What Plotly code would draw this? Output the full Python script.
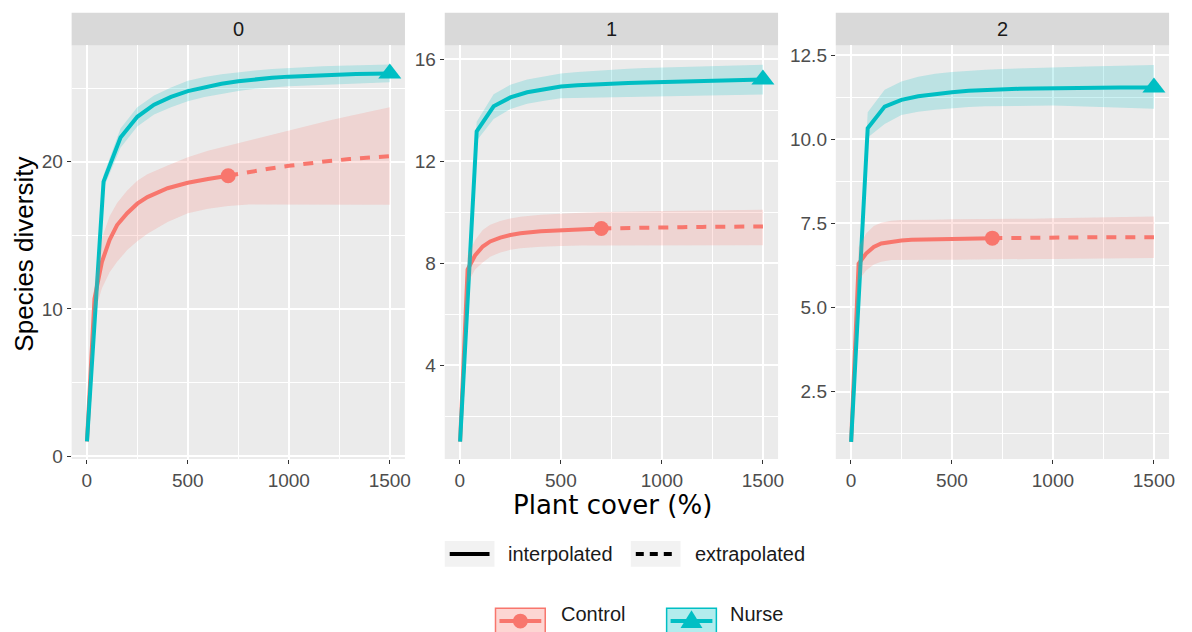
import plotly.graph_objects as go

W, H = 1192, 632

# ---------------- data ----------------
PANELS = ["0", "1", "2"]
CTRL_REF = 700  # reference sample size (end of interpolation)

CTRL_X = [1, 38, 75, 113, 150, 200, 250, 300, 400, 500, 600, 700,
          800, 900, 1000, 1100, 1200, 1300, 1400, 1500]
NURSE_X = [1, 83, 167, 250, 333, 417, 500, 583, 667, 750, 833, 917,
           1000, 1083, 1167, 1250, 1333, 1417, 1500]

ctrl_y_0 = [1, 10.7, 13.2, 14.7, 15.7, 16.5, 17.15, 17.6, 18.2, 18.57, 18.83, 19.05,
            19.3, 19.52, 19.72, 19.9, 20.05, 20.18, 20.29, 20.38]
ctrl_lo_0 = [1, 9.7, 11.4, 12.5, 13.2, 14.0, 14.6, 15.1, 15.9, 16.5, 16.8, 17.0,
             17.1, 17.12, 17.12, 17.12, 17.1, 17.1, 17.09, 17.08]
ctrl_hi_0 = [1, 11.6, 14.8, 16.3, 17.2, 18.05, 18.7, 19.15, 19.75, 20.3, 20.75, 21.1,
             21.45, 21.8, 22.15, 22.5, 22.8, 23.1, 23.4, 23.7]
nurse_y_0 = [1, 18.65, 21.65, 23.05, 23.87, 24.4, 24.8, 25.08, 25.3, 25.47, 25.6, 25.7,
             25.78, 25.84, 25.89, 25.93, 25.96, 25.98, 26.0]
nurse_lo_0 = [1, 18.2, 20.95, 22.4, 23.2, 23.7, 24.1, 24.4, 24.6, 24.8, 24.95, 25.05,
              25.12, 25.18, 25.24, 25.28, 25.32, 25.36, 25.4]
nurse_hi_0 = [1, 19.1, 22.25, 23.7, 24.5, 25.05, 25.5, 25.75, 25.95, 26.1, 26.2, 26.3,
              26.37, 26.43, 26.48, 26.52, 26.55, 26.58, 26.6]

ctrl_y_1 = [1, 7.75, 8.3, 8.65, 8.85, 9.0, 9.1, 9.17, 9.25, 9.29, 9.33, 9.36,
            9.38, 9.39, 9.4, 9.41, 9.42, 9.43, 9.44, 9.44]
ctrl_lo_1 = [1, 7.2, 7.75, 8.02, 8.25, 8.42, 8.52, 8.58, 8.64, 8.67, 8.69, 8.7,
             8.7, 8.7, 8.7, 8.7, 8.7, 8.7, 8.7, 8.7]
ctrl_hi_1 = [1, 8.3, 8.9, 9.3, 9.5, 9.65, 9.75, 9.82, 9.9, 9.95, 9.98, 10.0,
             10.02, 10.03, 10.04, 10.05, 10.06, 10.07, 10.08, 10.09]
nurse_y_1 = [1, 13.17, 14.15, 14.5, 14.7, 14.82, 14.93, 14.98, 15.02, 15.04, 15.07, 15.09,
             15.11, 15.13, 15.15, 15.16, 15.17, 15.19, 15.2]
nurse_lo_1 = [1, 12.8, 13.65, 14.05, 14.25, 14.37, 14.47, 14.5, 14.52, 14.53, 14.54, 14.55,
              14.56, 14.57, 14.58, 14.59, 14.6, 14.6, 14.61]
nurse_hi_1 = [1, 13.55, 14.62, 15.0, 15.2, 15.33, 15.44, 15.5, 15.55, 15.59, 15.62, 15.65,
              15.67, 15.7, 15.72, 15.74, 15.75, 15.77, 15.78]

ctrl_y_2 = [1, 6.3, 6.6, 6.8, 6.9, 6.96, 6.99, 7.01, 7.03, 7.04, 7.05, 7.06,
            7.07, 7.07, 7.08, 7.08, 7.08, 7.09, 7.09, 7.09]
ctrl_lo_2 = [1, 5.8, 6.1, 6.28, 6.36, 6.41, 6.42, 6.42, 6.42, 6.42, 6.42, 6.42,
             6.43, 6.44, 6.44, 6.45, 6.45, 6.46, 6.46, 6.47]
ctrl_hi_2 = [1, 6.8, 7.2, 7.42, 7.52, 7.58, 7.6, 7.61, 7.61, 7.62, 7.62, 7.62,
             7.63, 7.64, 7.65, 7.66, 7.67, 7.68, 7.69, 7.7]
nurse_y_2 = [1, 10.33, 10.97, 11.17, 11.28, 11.35, 11.4, 11.44, 11.47, 11.49, 11.5, 11.51,
             11.52, 11.53, 11.53, 11.54, 11.54, 11.54, 11.54]
nurse_lo_2 = [1, 10.05, 10.45, 10.72, 10.82, 10.88, 10.93, 10.96, 10.98, 10.99, 11.0, 11.0,
              11.0, 10.99, 10.98, 10.97, 10.95, 10.93, 10.91]
nurse_hi_2 = [1, 10.8, 11.47, 11.72, 11.86, 11.95, 12.0, 12.04, 12.07, 12.09, 12.11, 12.12,
              12.13, 12.15, 12.16, 12.17, 12.18, 12.2, 12.21]

CTRL = [(ctrl_y_0, ctrl_lo_0, ctrl_hi_0), (ctrl_y_1, ctrl_lo_1, ctrl_hi_1), (ctrl_y_2, ctrl_lo_2, ctrl_hi_2)]
NURSE = [(nurse_y_0, nurse_lo_0, nurse_hi_0), (nurse_y_1, nurse_lo_1, nurse_hi_1), (nurse_y_2, nurse_lo_2, nurse_hi_2)]

X_TICKS = [0, 500, 1000, 1500]
Y_RANGES = [[-0.2, 27.9], [0.31, 16.54], [0.49, 12.79]]
Y_DTICK = [10, 4, 2.5]
Y_FORMAT = ["d", "d", ".1f"]

RED = "#F8766D"
CYAN = "#00BFC4"
RED_FILL = "rgba(248,118,109,0.2)"
CYAN_FILL = "rgba(0,191,196,0.2)"

# ---------------- layout geometry (px) ----------------
PANEL_X = [(72, 407), (447, 782), (840, 1175)]
PANEL_TOP, PANEL_BOT = 46, 465
STRIP_TOP = 13


def px(x):
    return x / W


def py(y):
    return 1 - y / H


fig = go.Figure()

for i in range(3):
    sfx = "" if i == 0 else str(i + 1)
    xa, ya = "x" + sfx, "y" + sfx
    ys, lo, hi = CTRL[i]
    n_int = len([x for x in CTRL_X if x <= CTRL_REF])
    n_ext_start = CTRL_X.index(CTRL_REF)
    fig.add_trace(go.Scatter(x=CTRL_X[:n_int], y=ys[:n_int], mode="lines", xaxis=xa, yaxis=ya,
                             line=dict(color=RED, width=4), showlegend=False, hoverinfo="skip"))
    fig.add_trace(go.Scatter(x=CTRL_X[n_ext_start:], y=ys[n_ext_start:], mode="lines", xaxis=xa, yaxis=ya,
                             line=dict(color=RED, width=4, dash="10px,9px"),
                             showlegend=False, hoverinfo="skip"))
    fig.add_trace(go.Scatter(x=[CTRL_REF], y=[ys[n_ext_start]], mode="markers",
                             xaxis=xa, yaxis=ya, marker=dict(color=RED, size=15, symbol="circle"),
                             showlegend=False, hoverinfo="skip"))
    ny, nlo, nhi = NURSE[i]
    fig.add_trace(go.Scatter(x=NURSE_X, y=ny, mode="lines", xaxis=xa, yaxis=ya,
                             line=dict(color=CYAN, width=4), showlegend=False, hoverinfo="skip"))
    fig.add_trace(go.Scatter(x=[NURSE_X[-1]], y=[ny[-1]], mode="markers",
                             xaxis=xa, yaxis=ya, marker=dict(color=CYAN, size=20, symbol="triangle-up"),
                             showlegend=False, hoverinfo="skip"))
    # ribbons on top (as in ggiNEXT)
    for (xs, (yy, l, h), fillc) in [(CTRL_X, CTRL[i], RED_FILL), (NURSE_X, NURSE[i], CYAN_FILL)]:
        fig.add_trace(go.Scatter(x=list(xs) + list(xs)[::-1], y=list(h) + list(l)[::-1],
                                 mode="lines", fill="toself", fillcolor=fillc, line=dict(width=0),
                                 xaxis=xa, yaxis=ya, showlegend=False, hoverinfo="skip"))

    x0, x1 = PANEL_X[i]
    fig.layout["xaxis" + sfx] = dict(
        domain=[px(x0), px(x1)], anchor=ya, range=[-75, 1575],
        tickvals=X_TICKS, ticks="outside", ticklen=4, tickcolor="#333333", tickwidth=1,
        tickfont=dict(family="Liberation Sans, Arial", size=19, color="#4D4D4D"),
        showgrid=True, gridcolor="white", gridwidth=1.6, zeroline=False, showline=False,
        minor=dict(tickvals=[250, 750, 1250], showgrid=True, gridcolor="white", gridwidth=0.8, ticks=""),
        fixedrange=True,
    )
    r = Y_RANGES[i]
    d = Y_DTICK[i]
    fig.layout["yaxis" + sfx] = dict(
        domain=[py(PANEL_BOT), py(PANEL_TOP)], anchor=xa, range=r,
        tick0=0, dtick=d, tickformat=Y_FORMAT[i], ticks="outside", ticklen=4, tickcolor="#333333", tickwidth=1,
        tickfont=dict(family="Liberation Sans, Arial", size=19, color="#4D4D4D"),
        showgrid=True, gridcolor="white", gridwidth=1.6, zeroline=False, showline=False,
        minor=dict(tick0=d / 2, dtick=d, showgrid=True, gridcolor="white", gridwidth=0.8, ticks=""),
        fixedrange=True,
    )

shapes = []
annotations = []
for i in range(3):
    x0, x1 = PANEL_X[i]
    shapes.append(dict(type="rect", xref="paper", yref="paper", x0=px(x0), x1=px(x1),
                       y0=py(PANEL_BOT), y1=py(PANEL_TOP), fillcolor="#EBEBEB",
                       line=dict(width=0), layer="below"))
    shapes.append(dict(type="rect", xref="paper", yref="paper", x0=px(x0), x1=px(x1),
                       y0=py(PANEL_TOP), y1=py(STRIP_TOP), fillcolor="#D9D9D9",
                       line=dict(width=0), layer="below"))
    annotations.append(dict(text=PANELS[i], xref="paper", yref="paper", x=px((x0 + x1) / 2),
                            y=py((STRIP_TOP + PANEL_TOP) / 2), showarrow=False, xanchor="center",
                            yanchor="middle", font=dict(family="Liberation Sans, Arial", size=20, color="#1A1A1A")))

# axis titles
annotations.append(dict(text="Plant cover (%)", xref="paper", yref="paper", x=px(616), y=py(511),
                        showarrow=False, xanchor="center", yanchor="middle",
                        font=dict(family="DejaVu Sans", size=26, color="black")))
annotations.append(dict(text="Species diversity", xref="paper", yref="paper", x=px(24), y=py(257),
                        showarrow=False, xanchor="center", yanchor="middle", textangle=-90,
                        font=dict(family="Liberation Sans, Arial", size=26, color="black")))

# legend row 1 (line type)
LEG_FONT = dict(family="Liberation Sans, Arial", size=20, color="#1A1A1A")
row1 = 561
for (bx, dash, label, tx) in [(447, "solid", "interpolated", 509), (634, "8px,6px", "extrapolated", 697)]:
    shapes.append(dict(type="rect", xref="paper", yref="paper", x0=px(bx), x1=px(bx + 50),
                       y0=py(row1 + 13), y1=py(row1 - 13), fillcolor="#F2F2F2", line=dict(width=0)))
    shapes.append(dict(type="line", xref="paper", yref="paper", x0=px(bx + 5), x1=px(bx + 45),
                       y0=py(row1), y1=py(row1), line=dict(color="black", width=4, dash=dash)))
    annotations.append(dict(text=label, xref="paper", yref="paper", x=px(tx), y=py(row1),
                            showarrow=False, xanchor="left", yanchor="middle", font=LEG_FONT))

# legend row 2 (groups)
row2_box_top = 616
row2 = 622
for (bx, col, fillc, label, tx, sym) in [(498, RED, "rgba(248,118,109,0.3)", "Control", 562, "circle"),
                                         (670, CYAN, "rgba(0,191,196,0.3)", "Nurse", 732, "triangle")]:
    shapes.append(dict(type="rect", xref="paper", yref="paper", x0=px(bx), x1=px(bx + 50),
                       y0=py(row2_box_top + 27), y1=py(row2_box_top), fillcolor=fillc,
                       line=dict(color=col, width=1.5)))
    ly = row2_box_top + 13
    shapes.append(dict(type="line", xref="paper", yref="paper", x0=px(bx + 4), x1=px(bx + 46),
                       y0=py(ly), y1=py(ly), line=dict(color=col, width=4)))
    cx = bx + 25
    if sym == "circle":
        shapes.append(dict(type="circle", xref="paper", yref="paper", x0=px(cx - 7.5), x1=px(cx + 7.5),
                           y0=py(ly + 7.5), y1=py(ly - 7.5), fillcolor=col, line=dict(width=0)))
    else:
        path = "M {} {} L {} {} L {} {} Z".format(px(cx - 11), py(ly + 7), px(cx + 11), py(ly + 7),
                                                  px(cx), py(ly - 11))
        shapes.append(dict(type="path", xref="paper", yref="paper", path=path, fillcolor=col, line=dict(width=0)))
    annotations.append(dict(text=label, xref="paper", yref="paper", x=px(tx), y=py(row2),
                            showarrow=False, xanchor="left", yanchor="middle", font=LEG_FONT))

fig.update_layout(
    width=W, height=H, margin=dict(l=0, r=0, t=0, b=0),
    paper_bgcolor="white", plot_bgcolor="rgba(0,0,0,0)",
    shapes=shapes, annotations=annotations, showlegend=False,
)

fig.write_html("out.html", config={"displayModeBar": False})
